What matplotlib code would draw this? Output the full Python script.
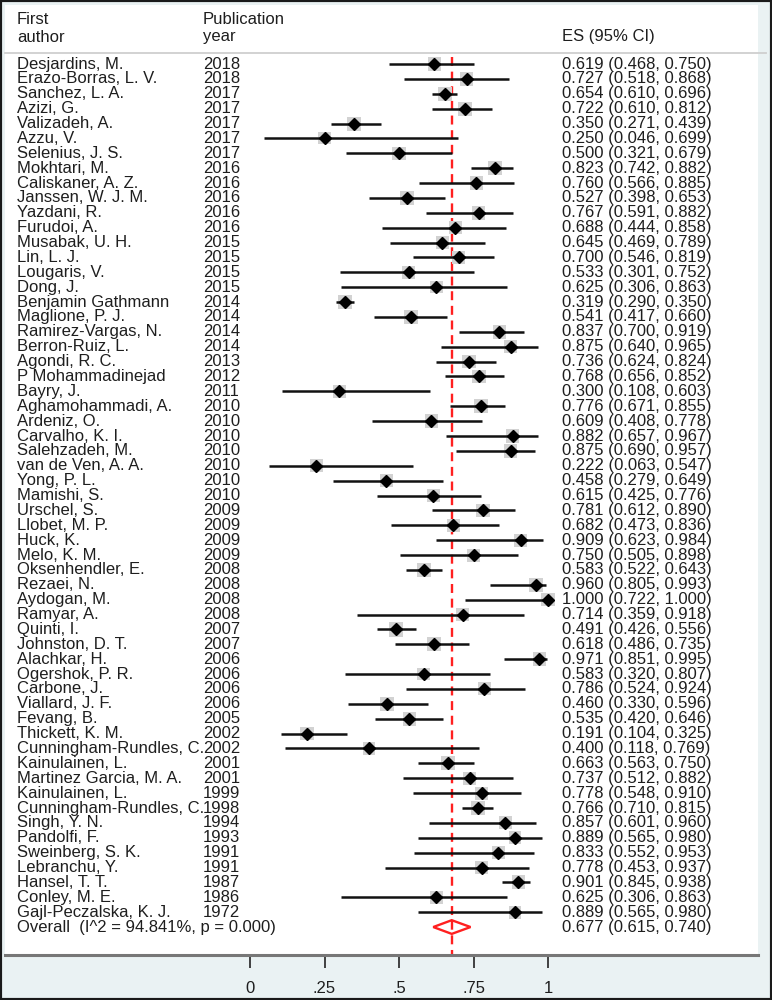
import matplotlib.pyplot as plt
from matplotlib.transforms import blended_transform_factory
from matplotlib.patches import Rectangle, Polygon
from matplotlib.lines import Line2D

plt.rcParams['font.family'] = ['Liberation Sans', 'DejaVu Sans']

authors = ["Desjardins, M.", "Erazo-Borras, L. V.", "Sanchez, L. A.", "Azizi, G.",
           "Valizadeh, A.", "Azzu, V.", "Selenius, J. S.", "Mokhtari, M.",
           "Caliskaner, A. Z.", "Janssen, W. J. M.", "Yazdani, R.", "Furudoi, A.",
           "Musabak, U. H.", "Lin, L. J.", "Lougaris, V.", "Dong, J.",
           "Benjamin Gathmann", "Maglione, P. J.", "Ramirez-Vargas, N.", "Berron-Ruiz, L.",
           "Agondi, R. C.", "P Mohammadinejad", "Bayry, J.", "Aghamohammadi, A.",
           "Ardeniz, O.", "Carvalho, K. I.", "Salehzadeh, M.", "van de Ven, A. A.",
           "Yong, P. L.", "Mamishi, S.", "Urschel, S.", "Llobet, M. P.",
           "Huck, K.", "Melo, K. M.", "Oksenhendler, E.", "Rezaei, N.",
           "Aydogan, M.", "Ramyar, A.", "Quinti, I.", "Johnston, D. T.",
           "Alachkar, H.", "Ogershok, P. R.", "Carbone, J.", "Viallard, J. F.",
           "Fevang, B.", "Thickett, K. M.", "Cunningham-Rundles, C.", "Kainulainen, L.",
           "Martinez Garcia, M. A.", "Kainulainen, L.", "Cunningham-Rundles, C.", "Singh, Y. N.",
           "Pandolfi, F.", "Sweinberg, S. K.", "Lebranchu, Y.", "Hansel, T. T.",
           "Conley, M. E.", "Gajl-Peczalska, K. J."]
years = [2018, 2018, 2017, 2017, 2017, 2017, 2017, 2016, 2016, 2016, 2016, 2016,
         2015, 2015, 2015, 2015, 2014, 2014, 2014, 2014, 2013, 2012, 2011, 2010,
         2010, 2010, 2010, 2010, 2010, 2010, 2009, 2009, 2009, 2009, 2008, 2008,
         2008, 2008, 2007, 2007, 2006, 2006, 2006, 2006, 2005, 2002, 2002, 2001,
         2001, 1999, 1998, 1994, 1993, 1991, 1991, 1987, 1986, 1972]
es = [0.619, 0.727, 0.654, 0.722, 0.350, 0.250, 0.500, 0.823, 0.760, 0.527, 0.767, 0.688,
      0.645, 0.700, 0.533, 0.625, 0.319, 0.541, 0.837, 0.875, 0.736, 0.768, 0.300, 0.776,
      0.609, 0.882, 0.875, 0.222, 0.458, 0.615, 0.781, 0.682, 0.909, 0.750, 0.583, 0.960,
      1.000, 0.714, 0.491, 0.618, 0.971, 0.583, 0.786, 0.460, 0.535, 0.191, 0.400, 0.663,
      0.737, 0.778, 0.766, 0.857, 0.889, 0.833, 0.778, 0.901, 0.625, 0.889]
lo = [0.468, 0.518, 0.610, 0.610, 0.271, 0.046, 0.321, 0.742, 0.566, 0.398, 0.591, 0.444,
      0.469, 0.546, 0.301, 0.306, 0.290, 0.417, 0.700, 0.640, 0.624, 0.656, 0.108, 0.671,
      0.408, 0.657, 0.690, 0.063, 0.279, 0.425, 0.612, 0.473, 0.623, 0.505, 0.522, 0.805,
      0.722, 0.359, 0.426, 0.486, 0.851, 0.320, 0.524, 0.330, 0.420, 0.104, 0.118, 0.563,
      0.512, 0.548, 0.710, 0.601, 0.565, 0.552, 0.453, 0.845, 0.306, 0.565]
hi = [0.750, 0.868, 0.696, 0.812, 0.439, 0.699, 0.679, 0.882, 0.885, 0.653, 0.882, 0.858,
      0.789, 0.819, 0.752, 0.863, 0.350, 0.660, 0.919, 0.965, 0.824, 0.852, 0.603, 0.855,
      0.778, 0.967, 0.957, 0.547, 0.649, 0.776, 0.890, 0.836, 0.984, 0.898, 0.643, 0.993,
      1.000, 0.918, 0.556, 0.735, 0.995, 0.807, 0.924, 0.596, 0.646, 0.325, 0.769, 0.750,
      0.882, 0.910, 0.815, 0.960, 0.980, 0.953, 0.937, 0.938, 0.863, 0.980]
# approximate box weights (%)
weights = [1.8, 1.7, 1.9, 1.85, 1.85, 1.4, 1.7, 1.85, 1.7, 1.8, 1.7, 1.6,
           1.7, 1.75, 1.6, 1.5, 1.9, 1.8, 1.8, 1.65, 1.8, 1.8, 1.55, 1.8,
           1.7, 1.65, 1.7, 1.55, 1.7, 1.7, 1.75, 1.65, 1.6, 1.6, 1.9, 1.7,
           1.6, 1.5, 1.9, 1.8, 1.75, 1.55, 1.6, 1.8, 1.8, 1.8, 1.45, 1.85,
           1.65, 1.65, 1.9, 1.6, 1.55, 1.6, 1.55, 1.85, 1.5, 1.55]
overall = (0.677, 0.615, 0.740)
overall_label = "Overall  (I^2 = 94.841%, p = 0.000)"
xticks = [0, 0.25, 0.5, 0.75, 1]
xtick_labels = ["0", ".25", ".5", ".75", "1"]

W, H = 772, 1000
fig = plt.figure(figsize=(W / 100, H / 100), dpi=100, facecolor="#eaf2f3")
fig.patches.append(Rectangle((5 / W, 1 - 955 / H), 753 / W, 950 / H,
                             transform=fig.transFigure, fc="white", ec="none", zorder=-1))
fig.patches.append(Rectangle((0, 0), 1, 1, transform=fig.transFigure,
                             fill=False, ec="#1a1a1a", lw=3, zorder=5))

# pixel layout: x=0 at 250px, x=1 at 548px; row 1 at 64px, step 14.88px
ax = fig.add_axes([5 / W, 1 - 955 / H, 753 / W, 950 / H])
ax.set_facecolor("none")
ax.set_xlim((5 - 250) / 298, (758 - 250) / 298)
step = 14.88
ax.set_ylim(1 + (955 - 64) / step, 1 + (5 - 64) / step)

n = len(es)
rows = list(range(1, n + 1))

ax.scatter(es, rows, marker="s", s=[(7.4 * w ** 0.5) ** 2 for w in weights],
           c="#d2d2d2", edgecolors="none", zorder=2)
ax.hlines(rows, lo, hi, color="#111111", lw=1.8, zorder=3)
ax.plot(es, rows, "D", ms=5.8, color="#000000", zorder=4)

ax.vlines(overall[0], 0.55, ax.get_ylim()[0], color="#ff2020", lw=1.7,
          linestyles=(0, (3.8, 2.4)), zorder=1)

oy = n + 1
ax.add_patch(Polygon([(overall[1], oy), (overall[0], oy - 0.46),
                      (overall[2], oy), (overall[0], oy + 0.46)],
                     closed=True, fill=False, ec="#ff2020", lw=1.7, zorder=4))

T = blended_transform_factory(fig.transFigure, ax.transData)
fs = 12
tc = "#1e1e1e"
for i in range(n):
    y = rows[i]
    ax.text(17 / W, y, authors[i], transform=T, fontsize=fs, va="center", color=tc)
    ax.text(203 / W, y, str(years[i]), transform=T, fontsize=fs, va="center", color=tc)
    ax.text(562 / W, y, f"{es[i]:.3f} ({lo[i]:.3f}, {hi[i]:.3f})", transform=T,
            fontsize=fs, va="center", color=tc)
ax.text(17 / W, oy, overall_label, transform=T, fontsize=fs, va="center", color=tc)
ax.text(562 / W, oy, f"{overall[0]:.3f} ({overall[1]:.3f}, {overall[2]:.3f})",
        transform=T, fontsize=fs, va="center", color=tc)

# header
for x, y, s in [(17, 20, "First"), (17, 37, "author"),
                (203, 20, "Publication"), (203, 37, "year"), (562, 37, "ES (95% CI)")]:
    fig.text(x / W, 1 - y / H, s, fontsize=fs, va="center", color=tc)
fig.add_artist(Line2D([5 / W, 766 / W], [1 - 53 / H, 1 - 53 / H],
                      transform=fig.transFigure, color="#cfcfcf", lw=1.3))

for side in ["top", "left", "right"]:
    ax.spines[side].set_visible(False)
ax.spines["bottom"].set_color("#777777")
ax.spines["bottom"].set_linewidth(2.2)
ax.set_yticks([])
ax.set_xticks(xticks)
ax.set_xticklabels(xtick_labels)
ax.tick_params(axis="x", direction="out", length=9, width=1.3, color="#333333",
               labelsize=fs, labelcolor=tc, pad=10)

fig.savefig("out.png", dpi=100, facecolor=fig.get_facecolor())
